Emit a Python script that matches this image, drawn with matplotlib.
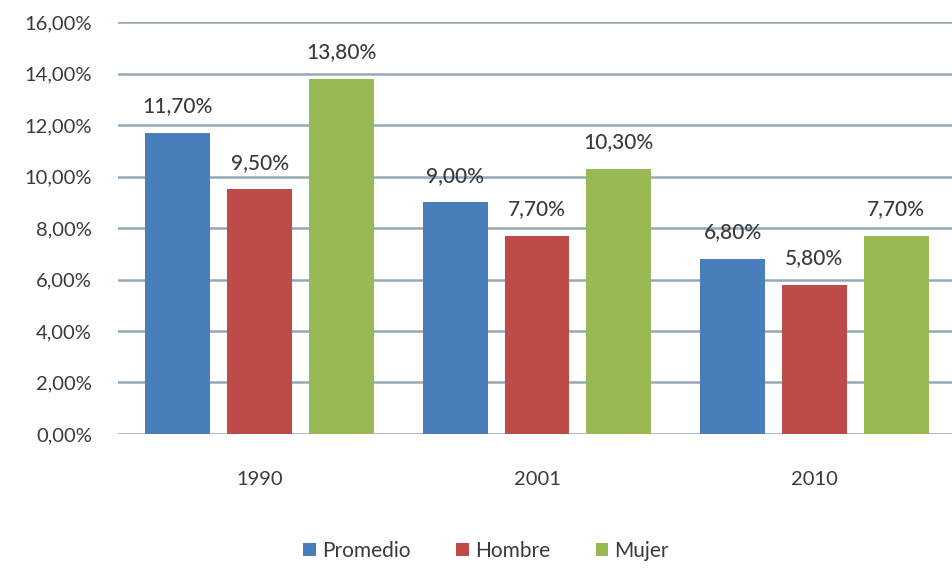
import matplotlib.pyplot as plt
import numpy as np

years = ['1990', '2001', '2010']
promedio = [11.7, 9.0, 6.8]
hombre = [9.5, 7.7, 5.8]
mujer = [13.8, 10.3, 7.7]
series_names = ['Promedio', 'Hombre', 'Mujer']
colors = ['#4a7ebb', '#be4b48', '#98b954']

def fmt(v):
    return ('%.2f' % v).replace('.', ',') + '%'

plt.rcParams['font.family'] = ['Lato', 'DejaVu Sans']
txt = '#3a3a3a'

fig = plt.figure(figsize=(9.53, 5.68), dpi=100)
ax = fig.add_axes([0.124, 0.236, 0.876, 0.725])

x = np.arange(len(years))
w = 0.234
step = 0.295
for i, (vals, name, c) in enumerate(zip([promedio, hombre, mujer], series_names, colors)):
    pos = x + (i - 1) * step
    bars = ax.bar(pos, vals, w, color=c, label=name, zorder=3)
    for b, v in zip(bars, vals):
        ax.annotate(fmt(v), (b.get_x() + b.get_width() / 2, v), xytext=(0, 12),
                    textcoords='offset points', ha='center', va='bottom',
                    fontsize=15, color=txt, fontweight='medium')

ax.set_xlim(-0.51, 2.5)
ax.set_ylim(0, 16)
ax.set_yticks(np.arange(0, 17, 2))
ax.set_yticklabels([fmt(v) for v in np.arange(0, 17, 2)])
ax.set_xticks(x)
ax.set_xticklabels(years)
ax.tick_params(axis='both', length=0, labelsize=14.5, colors=txt)
ax.tick_params(axis='y', pad=19)
ax.tick_params(axis='x', pad=27)
ax.grid(axis='y', color='#95a8b8', linewidth=1.8, zorder=0)
for s in ax.spines.values():
    s.set_visible(False)

fig.legend(loc='lower center', bbox_to_anchor=(0.51, -0.02), ncol=3, frameon=False,
           fontsize=15, handlelength=0.6, handleheight=0.6, handletextpad=0.3,
           columnspacing=2.2, labelcolor=txt)

fig.savefig('out.png', dpi=100)
